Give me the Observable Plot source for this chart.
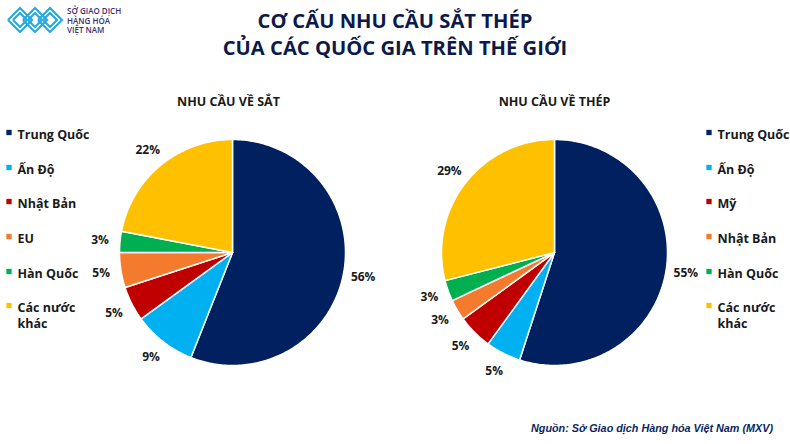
<!DOCTYPE html>
<html>
<head>
<meta charset="utf-8">
<script src="https://cdn.jsdelivr.net/npm/d3@7"></script>
<script src="https://cdn.jsdelivr.net/npm/@observablehq/plot@0.6"></script>
<style>
  html, body { margin: 0; padding: 0; background: #ffffff; }
  body { width: 790px; height: 444px; position: relative; overflow: hidden; font-family: "Open Sans", sans-serif; }
  #header { position: relative; height: 66px; }
  #logo { position: absolute; left: 6px; top: 6px; }
  #logotext { position: absolute; left: 67px; top: 6px; font-family: "Open Sans", sans-serif; font-size: 8px; line-height: 9.5px; color: #3b2e6e; font-weight: 600; }
  .tline { position: absolute; left: 0; right: 0; text-align: center; font-family: "Open Sans", sans-serif; font-weight: 700; font-size: 20.2px; line-height: 20px; color: #0c1a4a; margin: 0; white-space: nowrap; }
  #chart { position: absolute; left: 0; top: 66px; }
  #source { position: absolute; right: 17px; top: 422px; font-family: "Liberation Sans", Arial, sans-serif; font-style: italic; font-weight: 700; font-size: 10.8px; color: #0a1f60; }
</style>
</head>
<body>
<div id="header">
  <svg id="logo" width="58" height="28" viewBox="0 0 58 28">
    <g fill="none" stroke="#29a8e0" stroke-width="2.2" stroke-linejoin="miter">
      <polyline points="2,14 14,2 26,14 14,26 2,14"/>
      <polyline points="7,14 14,7 21,14 14,21 7,14"/>
      <polyline points="17,14 29,2 41,14 29,26 17,14"/>
      <polyline points="22,14 29,7 36,14 29,21 22,14"/>
      <polyline points="32,14 44,2 56,14 44,26 32,14"/>
      <polyline points="37,14 44,7 51,14 44,21 37,14"/>
    </g>
  </svg>
  <div id="logotext">SỞ GIAO DỊCH<br>HÀNG HÓA<br>VIỆT NAM</div>
  <div class="tline" style="top:10px">CƠ CẤU NHU CẦU SẮT THÉP</div>
  <div class="tline" style="top:37px">CỦA CÁC QUỐC GIA TRÊN THẾ GIỚI</div>
</div>
<div id="chart"></div>
<div id="source">Nguồn: Sở Giao dịch Hàng hóa Việt Nam (MXV)</div>
<script>
// ---- data ----
const pieTitles = ["NHU CẦU VỀ SẮT", "NHU CẦU VỀ THÉP"];
const categoriesSat = ["Trung Quốc", "Ấn Độ", "Nhật Bản", "EU", "Hàn Quốc", "Các nước khác"];
const valuesSat = [56, 9, 5, 5, 3, 22];
const categoriesThep = ["Trung Quốc", "Ấn Độ", "Mỹ", "Nhật Bản", "Hàn Quốc", "Các nước khác"];
const valuesThep = [55, 5, 5, 3, 3, 29];
const sliceColors = ["#002060", "#00b0f0", "#c00000", "#f47b2e", "#00b050", "#ffc000"];

// ---- layout ----
const W = 790, H = 344;
const pies = [
  {title: pieTitles[0], cats: categoriesSat, vals: valuesSat, cx: 232, cy: 186, r: 113, legendX: 8.5},
  {title: pieTitles[1], cats: categoriesThep, vals: valuesThep, cx: 554, cy: 186, r: 113, legendX: 708.5}
];
const legendRowY = [66, 101, 135, 170, 205, 239];

const slices = [], labels = [], legendItems = [], titles = [];
pies.forEach((p, pi) => {
  const arcs = d3.pie().sort(null).value(d => d)(p.vals);
  arcs.forEach((a, i) => {
    const pts = [[p.cx, p.cy]];
    const n = Math.max(2, Math.ceil((a.endAngle - a.startAngle) / (Math.PI / 180)));
    for (let k = 0; k <= n; k++) {
      const t = a.startAngle + (a.endAngle - a.startAngle) * k / n;
      pts.push([p.cx + p.r * Math.sin(t), p.cy - p.r * Math.cos(t)]);
    }
    pts.push([p.cx, p.cy]);
    slices.push({type: "Feature", properties: {slot: i, name: p.cats[i], value: p.vals[i]},
      geometry: {type: "Polygon", coordinates: [pts]}});
    const m = (a.startAngle + a.endAngle) / 2, lr = p.r + 20;
    labels.push({x: p.cx + lr * Math.sin(m), y: p.cy - lr * Math.cos(m), text: `${p.vals[i]}%`});
    legendItems.push({x: p.legendX, y: legendRowY[i], slot: i,
      text: p.cats[i] === "Các nước khác" ? "Các nước\nkhác" : p.cats[i]});
  });
  titles.push({x: p.cx - 4 + pi * 4, y: 35, text: p.title});
});

const frame = {type: "Polygon", coordinates: [[[0, 0], [W, 0], [W, H], [0, H], [0, 0]]]};

const chart = Plot.plot({
  width: W,
  height: H,
  margin: 0,
  projection: {type: "identity", domain: frame},
  color: {type: "ordinal", domain: d3.range(sliceColors.length), range: sliceColors},
  style: {background: "transparent"},
  marks: [
    Plot.geo(slices, {fill: d => d.properties.slot, stroke: "white", strokeWidth: 1.5}),
    Plot.text(labels, {x: "x", y: "y", text: "text", fontSize: 12, fontWeight: 700, fill: "#1a1a1a", fontFamily: "Open Sans"}),
    Plot.text(titles, {x: "x", y: "y", text: "text", fontSize: 12.5, fontWeight: 700, fill: "#1a1a1a", fontFamily: "Open Sans"}),
    Plot.dot(legendItems, {x: "x", y: "y", fill: "slot", symbol: "square", r: 3, stroke: null}),
    Plot.text(legendItems, {x: d => d.x + 8.5, y: "y", text: "text", textAnchor: "start", lineAnchor: "top", dy: -5, lineHeight: 1.28, fontSize: 12.5, fontWeight: 700, fill: "#1a1a1a", fontFamily: "Open Sans"})
  ]
});
document.getElementById("chart").appendChild(chart);
</script>
</body>
</html>
